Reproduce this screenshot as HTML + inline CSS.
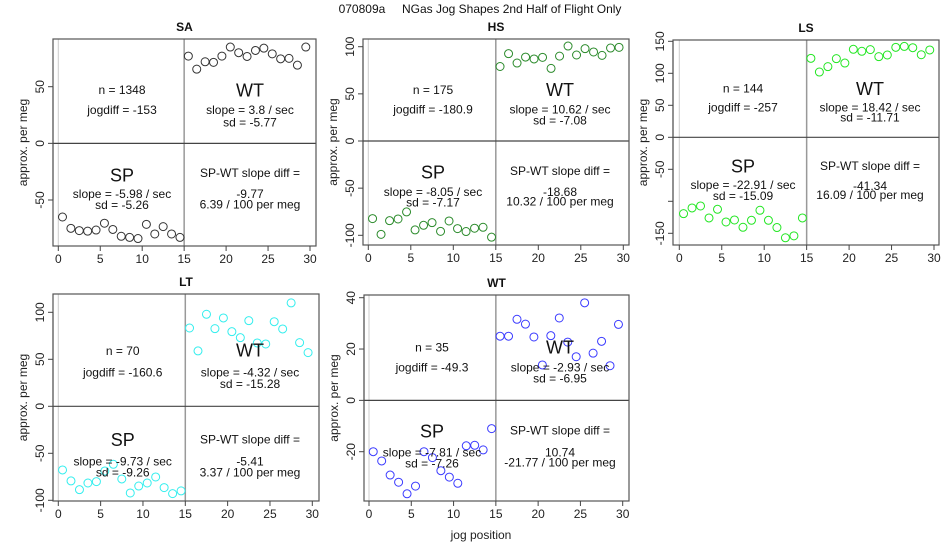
<!DOCTYPE html>
<html><head><meta charset="utf-8"><style>
body{margin:0;background:#fff;}
svg{display:block;font-family:"Liberation Sans",Arial,sans-serif;}
</style></head><body>
<svg id="chart" width="950" height="550" viewBox="0 0 950 550" xmlns="http://www.w3.org/2000/svg">
<text x="480" y="13" text-anchor="middle" font-size="12" fill="#111" style="white-space:pre" xml:space="preserve">070809a     NGas Jog Shapes 2nd Half of Flight Only</text>
<text x="481" y="539" text-anchor="middle" font-size="12" fill="#222">jog position</text>
</svg>
<script>
const jogPositions=[0.5,1.5,2.5,3.5,4.5,5.5,6.5,7.5,8.5,9.5,10.5,11.5,12.5,13.5,14.5,15.5,16.5,17.5,18.5,19.5,20.5,21.5,22.5,23.5,24.5,25.5,26.5,27.5,28.5,29.5];
const xTicks=[0,5,10,15,20,25,30];
const saValues=[-65,-75,-77,-77.5,-76.5,-70.5,-76,-82,-83,-84,-71.5,-80,-73.5,-80,-83,77,65.5,72,71.5,77,85,80,76.7,82,84,79,74.6,75,69,85];
const hsValues=[-82.3,-99,-84.5,-82.7,-75.2,-94.3,-89.4,-86.6,-95.8,-84.8,-92.9,-96,-92.5,-91.5,-102,79,92.6,82.7,89,87,88.7,77,90,100.7,91.2,97.9,94.4,90.8,98.6,99.3];
const lsValues=[-119.3,-110.4,-107.3,-126,-112.5,-132.3,-129.2,-140.6,-129.7,-114,-129.7,-141,-157,-154,-126,123.4,102,110.4,122.9,116,137.5,134.4,137,126,128.6,140.6,142,140,129,136.5];
const ltValues=[-67.7,-79.4,-88.7,-81.6,-80.1,-68.8,-61.7,-77.3,-92.2,-84.8,-81.6,-75.2,-86.5,-92.9,-90,83.3,58.9,97.9,82.6,94,79.4,73,91.1,67.4,66.3,90,82.3,110,67.7,57.1];
const wtValues=[-20,-23.6,-29.1,-31.9,-36.4,-33.4,-20,-22.3,-27.4,-29.9,-32.3,-17.7,-17.5,-19.3,-11,25,25,31.6,29.7,24.7,13.8,25.2,32.1,22.7,17,38,18.4,23,13.5,29.6];
const saYTicks=[-50,0,50], hsYTicks=[-100,-50,0,50,100], lsYTicks=[-150,-100,-50,0,50,100,150], ltYTicks=[-100,-50,0,50,100], wtYTicks=[-20,0,20,40];
const lsYLabels=["-150","","-50","0","50","100","150"];

const panels=[
 {id:"sa",title:"SA",vals:saValues,yt:saYTicks,color:"#333",box:[53,39,316,246],x0:58.3,x30:310,yA:[50,86.7],yB:[-50,200],tx:[122,250],
  ty:[94,114,96.7,114,126.7,181.7,198,209,177,198,208.7],
  txt:["n = 1348","jogdiff = -153","slope = 3.8 / sec","sd = -5.77","slope = -5.98 / sec","sd = -5.26","-9.77","6.39 / 100 per meg"]},
 {id:"hs",title:"HS",vals:hsValues,yt:hsYTicks,color:"#2a8a2a",box:[363,39,629,245],x0:368.3,x30:623.3,yA:[100,46.7],yB:[-100,235.3],tx:[433,560],
  ty:[94,113.3,96,113.3,124.3,178.3,196,206.7,175,196,205.7],
  txt:["n = 175","jogdiff = -180.9","slope = 10.62 / sec","sd = -7.08","slope = -8.05 / sec","sd = -7.17","-18.68","10.32 / 100 per meg"]},
 {id:"ls",title:"LS",vals:lsValues,yt:lsYTicks,labels:lsYLabels,color:"#22e622",box:[673,40,939,245],x0:679.3,x30:934,yA:[150,41.3],yB:[-150,233.3],tx:[743,870],
  ty:[92.7,111.7,95,111.7,121.7,172.7,189,200,170,190,199],
  txt:["n = 144","jogdiff = -257","slope = 18.42 / sec","sd = -11.71","slope = -22.91 / sec","sd = -15.09","-41.34","16.09 / 100 per meg"]},
 {id:"lt",title:"LT",vals:ltValues,yt:ltYTicks,color:"#33eeee",box:[53,294,319,501],x0:58.3,x30:312.3,yA:[100,312.3],yB:[-100,500.3],tx:[122.7,250],
  ty:[355,376.7,356.7,376.7,388,446,465.7,476.7,443.3,465.7,476.7],
  txt:["n = 70","jogdiff = -160.6","slope = -4.32 / sec","sd = -15.28","slope = -9.73 / sec","sd = -9.26","-5.41","3.37 / 100 per meg"]},
 {id:"wt",title:"WT",vals:wtValues,yt:wtYTicks,color:"#3a3aff",box:[364,295,629,501],x0:369,x30:622.7,yA:[40,297.7],yB:[-20,451.7],tx:[432,560],
  ty:[351.7,371.7,353.3,371.7,382.3,437.7,456.7,467.7,434.3,456.7,466.7],
  txt:["n = 35","jogdiff = -49.3","slope = -2.93 / sec","sd = -6.95","slope = -7.81 / sec","sd = -7.26","10.74","-21.77 / 100 per meg"]}
];
const svg=document.getElementById('chart');
const NS="http://www.w3.org/2000/svg";
function mk(tag,attrs,parent,text){const e=document.createElementNS(NS,tag);for(const k in attrs)e.setAttribute(k,attrs[k]);if(text!==undefined)e.textContent=text;parent.appendChild(e);return e;}
panels.forEach(p=>{
 const g=mk('g',{},svg);
 
 
 const xs=v=>p.x0+(p.x30-p.x0)*v/30;
 const ys=v=>p.yA[1]+(v-p.yA[0])*(p.yB[1]-p.yA[1])/(p.yB[0]-p.yA[0]);
 const [l,t,r,b]=p.box;
 const tt=mk('text',{x:(l+r)/2,y:t-8,'text-anchor':'middle','font-size':12,'font-weight':'bold',fill:'#111'},g,p.title);
 
 
 mk('line',{x1:xs(0),x2:xs(0),y1:t,y2:b,stroke:'#ccc','stroke-width':1},g);
 const vl=mk('line',{x1:xs(15),x2:xs(15),y1:t,y2:b,stroke:'#999','stroke-width':1.5},g);
 
 
 const hl=mk('line',{x1:l,x2:r,y1:ys(0),y2:ys(0),stroke:'#444','stroke-width':1.2},g);
 
 
 const bx=mk('rect',{x:l,y:t,width:r-l,height:b-t,fill:'none',stroke:'#555','stroke-width':1.2},g);
 
 
 xTicks.forEach(v=>{
  mk('line',{x1:xs(v),x2:xs(v),y1:b,y2:b+5,stroke:'#444'},g);
  const tl=mk('text',{x:xs(v),y:b+17,'text-anchor':'middle','font-size':12,fill:'#222'},g,String(v));
  
  
 });
 p.yt.forEach((v,i)=>{
  mk('line',{x1:l,x2:l-5,y1:ys(v),y2:ys(v),stroke:'#444'},g);
  const lab=p.labels?p.labels[i]:String(v);
  if(lab){const yl=mk('text',{x:0,y:0,transform:`translate(${l-9},${ys(v)}) rotate(-90)`,'text-anchor':'middle','font-size':12,fill:'#222'},g,lab);
  
  }
 });
 mk('line',{x1:l,x2:l,y1:ys(p.yt[0]),y2:ys(p.yt[p.yt.length-1]),stroke:'#444'},g);
 const yt=mk('text',{x:0,y:0,transform:`translate(${l-26},${(t+b)/2}) rotate(-90)`,'text-anchor':'middle','font-size':12,fill:'#222'},g,'approx. per meg');
 
 
 p.vals.forEach((v,i)=>{
  const c=mk('circle',{cx:xs(jogPositions[i]),cy:ys(v),r:4,fill:'none',stroke:p.color,'stroke-width':1},g);
  
  
 });
 const T=p.txt,Y=p.ty,L=p.tx[0],R=p.tx[1];
 const items=[[L,Y[0],T[0],12],[L,Y[1],T[1],12],[R,Y[2],'WT',18],[R,Y[3],T[2],12],[R,Y[4],T[3],12],
  [L,Y[5],'SP',18],[L,Y[6],T[4],12],[L,Y[7],T[5],12],[R,Y[8],'SP-WT slope diff =',12],[R,Y[9],T[6],12],[R,Y[10],T[7],12]];
 items.forEach(it=>{
  const e=mk('text',{x:it[0],y:it[1],'text-anchor':'middle','font-size':it[3],fill:'#111'},g,it[2]);
  
  
 });
});
</script>
</body></html>
